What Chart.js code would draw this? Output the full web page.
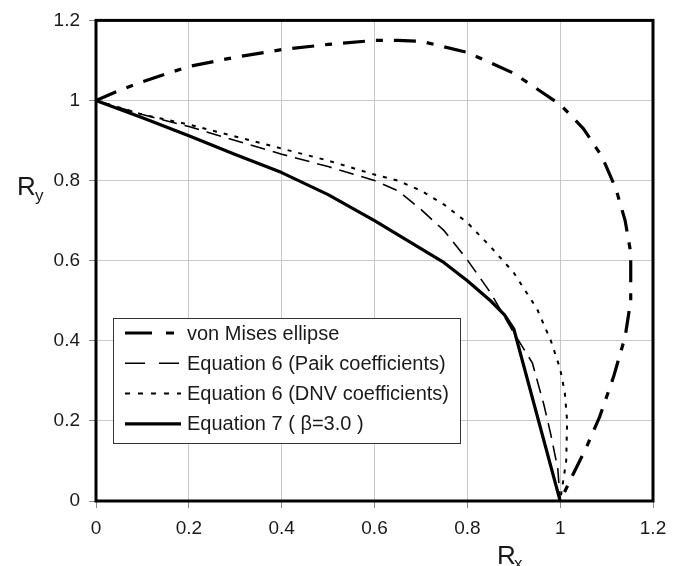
<!DOCTYPE html>
<html>
<head>
<meta charset="utf-8">
<title>Interaction curves</title>
<script src="https://cdn.jsdelivr.net/npm/chart.js@4.4.1/dist/chart.umd.min.js"></script>
<style>
  html, body { margin: 0; padding: 0; background: #fff; }
</style>
</head>
<body>
<canvas id="chart" width="686" height="566"></canvas>
<script>
// values
var xTicks = [0, 0.2, 0.4, 0.6, 0.8, 1, 1.2];
var yTicks = [0, 0.2, 0.4, 0.6, 0.8, 1, 1.2];
var tickLabels = ['0', '0.2', '0.4', '0.6', '0.8', '1', '1.2'];

var seriesNames = ['von Mises ellipse', 'Equation 6 (Paik coefficients)',
                   'Equation 6 (DNV coefficients)', 'Equation 7 ( \u03b2=3.0 )'];

var misesRx = [0, 0.05, 0.1, 0.2, 0.3, 0.4, 0.5, 0.6, 0.65, 0.7, 0.8, 0.9, 1.0, 1.05, 1.09, 1.12, 1.14, 1.152, 1.152, 1.14, 1.115, 1.085, 1.055, 1.025, 1.0];
var misesRy = [1, 1.025, 1.047, 1.085, 1.108, 1.127, 1.14, 1.15, 1.15, 1.148, 1.12, 1.068, 0.99, 0.93, 0.86, 0.78, 0.7, 0.62, 0.5, 0.41, 0.31, 0.21, 0.13, 0.06, 0];

var paikRx = [0, 0.1, 0.2, 0.3, 0.4, 0.5, 0.6, 0.65, 0.7, 0.75, 0.8, 0.85, 0.9, 0.94, 0.965, 0.98, 0.995, 1.0];
var paikRy = [1, 0.965, 0.935, 0.9, 0.866, 0.835, 0.8, 0.775, 0.728, 0.675, 0.602, 0.52, 0.42, 0.345, 0.24, 0.165, 0.08, 0];

var dnvRx = [0, 0.1, 0.2, 0.3, 0.4, 0.5, 0.6, 0.65, 0.7, 0.75, 0.8, 0.85, 0.9, 0.95, 0.98, 1.0, 1.01, 1.015, 1.013, 1.0];
var dnvRy = [1, 0.965, 0.94, 0.91, 0.88, 0.85, 0.815, 0.8, 0.775, 0.74, 0.695, 0.635, 0.57, 0.48, 0.4, 0.33, 0.27, 0.2, 0.1, 0];

var eq7Rx = [0, 0.1, 0.2, 0.3, 0.4, 0.5, 0.6, 0.7, 0.75, 0.8, 0.85, 0.88, 0.9, 1.0];
var eq7Ry = [1, 0.957, 0.912, 0.865, 0.82, 0.765, 0.7, 0.63, 0.595, 0.55, 0.5, 0.465, 0.43, 0];

function pts(xs, ys) {
  return xs.map(function (x, i) { return { x: x, y: ys[i] }; });
}

var FONT = '"Liberation Sans", Arial, sans-serif';
var legendDash = [[27, 14, 8, 14], [20, 14], [5, 8], []];

var extras = {
  id: 'extras',
  afterDatasetsDraw: function (chart) {
    var c = chart.ctx, a = chart.chartArea;
    c.save();
    // plot frame
    c.strokeStyle = '#000';
    c.lineWidth = 3;
    c.setLineDash([]);
    c.strokeRect(a.left, a.top, a.right - a.left, a.bottom - a.top);

    // legend box
    var bx = 113, by = 318, bw = 347, bh = 125;
    c.fillStyle = '#fff';
    c.fillRect(bx, by, bw, bh);
    c.strokeStyle = '#333';
    c.lineWidth = 1;
    c.strokeRect(bx + 0.5, by + 0.5, bw, bh);
    c.font = '20px ' + FONT;
    c.textBaseline = 'middle';
    c.textAlign = 'left';
    chart.data.datasets.forEach(function (ds, i) {
      var y = 333 + i * 30.3;
      c.strokeStyle = '#000';
      c.lineWidth = ds.borderWidth;
      c.lineCap = 'butt';
      c.setLineDash(legendDash[i]);
      c.beginPath();
      c.moveTo(125, y);
      c.lineTo(181, y);
      c.stroke();
      c.fillStyle = '#1a1a1a';
      c.fillText(seriesNames[i], 187, y + 1);
    });

    // axis titles with subscripts
    c.setLineDash([]);
    c.fillStyle = '#1a1a1a';
    c.textBaseline = 'alphabetic';
    c.font = '26px ' + FONT;
    c.fillText('R', 17, 195);
    c.fillText('R', 497, 564);
    c.font = '17px ' + FONT;
    c.fillText('y', 35, 201);
    c.fillText('x', 514, 569);
    c.restore();
  }
};

function tickSetter(vals) {
  return function (scale) {
    scale.ticks = vals.map(function (v) { return { value: v }; });
  };
}
function tickLabel(value, index) {
  return tickLabels[index];
}

var chart = new Chart(document.getElementById('chart'), {
  type: 'scatter',
  data: {
    datasets: [
      { label: seriesNames[0], data: pts(misesRx, misesRy), borderColor: '#000', borderWidth: 3.2, borderDash: [22, 11, 7, 11] },
      { label: seriesNames[1], data: pts(paikRx, paikRy), borderColor: '#000', borderWidth: 1.6, borderDash: [15, 8] },
      { label: seriesNames[2], data: pts(dnvRx, dnvRy), borderColor: '#000', borderWidth: 2, borderDash: [4, 7] },
      { label: seriesNames[3], data: pts(eq7Rx, eq7Ry), borderColor: '#000', borderWidth: 3.2, borderDash: [] }
    ].map(function (d) {
      d.showLine = true;
      d.pointRadius = 0;
      d.pointHoverRadius = 0;
      d.tension = 0;
      d.fill = false;
      d.borderCapStyle = 'butt';
      d.borderJoinStyle = 'round';
      return d;
    })
  },
  options: {
    responsive: false,
    animation: false,
    layout: { padding: { top: 14, right: 33, left: 0, bottom: 0 } },
    plugins: { legend: { display: false }, tooltip: { enabled: false } },
    scales: {
      x: {
        type: 'linear', min: 0, max: 1.2,
        afterBuildTicks: tickSetter(xTicks),
        afterFit: function (s) { s.height = 65; },
        grid: { color: '#c8c8c8', lineWidth: 1, tickLength: 7, tickColor: '#888' },
        border: { display: false },
        ticks: { font: { family: FONT, size: 19 }, color: '#1a1a1a', padding: 9, maxRotation: 0, callback: tickLabel }
      },
      y: {
        type: 'linear', min: 0, max: 1.2,
        afterBuildTicks: tickSetter(yTicks),
        afterFit: function (s) { s.width = 96; },
        grid: { color: '#c8c8c8', lineWidth: 1, tickLength: 7, tickColor: '#888' },
        border: { display: false },
        ticks: { font: { family: FONT, size: 19 }, color: '#1a1a1a', padding: 9, callback: tickLabel }
      }
    }
  },
  plugins: [extras]
});
</script>
</body>
</html>
